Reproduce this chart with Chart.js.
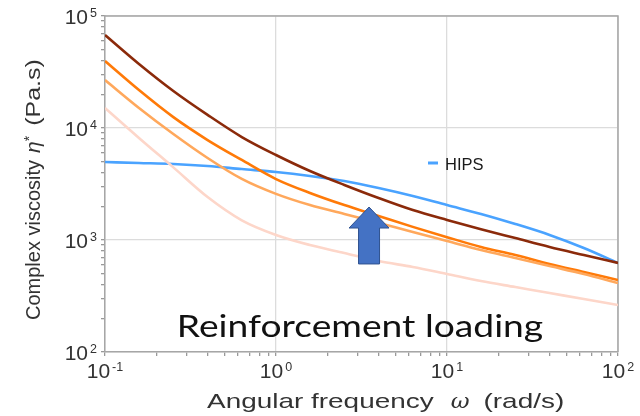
<!DOCTYPE html>
<html>
<head>
<meta charset="utf-8">
<script src="https://cdn.jsdelivr.net/npm/chart.js@4/dist/chart.umd.min.js"></script>
<style>
    html, body { margin: 0; padding: 0; background: #ffffff; }
    #wrap { width: 640px; height: 416px; position: relative; }
</style>
</head>
<body>
<div id="wrap"><canvas id="viscosityChart"></canvas></div>
<script>
// angular frequency (rad/s)
const omega = [0.1, 0.158, 0.251, 0.398, 0.631, 1, 1.58, 2.51, 3.98, 6.31, 10, 15.8, 25.1, 39.8, 63.1, 100];

// complex viscosity (Pa.s)
const loadingHigh = [67700, 37300, 21400, 13100, 8310, 5740, 4130, 3100, 2370, 1850, 1510, 1250, 1040, 866, 734, 624];
const loadingMid = [39600, 21800, 12500, 7810, 5180, 3500, 2630, 2050, 1640, 1310, 1060, 866, 734, 611, 518, 439];
const loadingLow = [26800, 15100, 8840, 5400, 3510, 2580, 2050, 1710, 1420, 1180, 980, 814, 691, 586, 497, 413];
const loadingMin = [15100, 8150, 4450, 2420, 1500, 1110, 902, 765, 649, 574, 497, 430, 380, 336, 297, 263];
const hips = [4970, 4870, 4770, 4580, 4300, 4050, 3730, 3360, 2910, 2470, 2050, 1710, 1390, 1110, 849, 624];

// major tick labels: base and exponent
const xMajor = [0.1, 1, 10, 100];
const xMajorExp = ['-1', '0', '1', '2'];
const yMajor = [100, 1000, 10000, 100000];
const yMajorExp = ['2', '3', '4', '5'];

const legendLabel = 'HIPS';
const annotationText = 'Reinforcement loading';

const fontFamily = '"Liberation Sans", Arial, sans-serif';
const textColor = '#333333';

const toPoints = (values) => omega.map((x, i) => ({ x, y: values[i] }));

const isPow10 = (v) => Math.abs(Math.log10(v) - Math.round(Math.log10(v))) < 1e-9;

const logTicks = (min, max) => {
    const ticks = [];
    for (let e = Math.round(Math.log10(min)); e < Math.round(Math.log10(max)); e++) {
        for (let m = 1; m <= 9; m++) {
            ticks.push({ value: m * Math.pow(10, e) });
        }
    }
    ticks.push({ value: max });
    return ticks;
};

const gridColor = (ctx) => (ctx.tick && isPow10(ctx.tick.value) ? '#dcdcdc' : 'rgba(0,0,0,0)');

// draws text squeezed or stretched horizontally, returns drawn width
const drawText = (ctx, text, x, y, sx = 1) => {
    ctx.save();
    ctx.translate(x, y);
    ctx.scale(sx, 1);
    ctx.fillText(text, 0, 0);
    ctx.restore();
    return ctx.measureText(text).width * sx;
};

const baseFont = '21px ' + fontFamily;
const expFont = '12.5px ' + fontFamily;

const drawPowerLabel = (ctx, exp, x, y, anchor) => {
    ctx.font = baseFont;
    const wBase = ctx.measureText('10').width;
    ctx.font = expFont;
    const wExp = ctx.measureText(exp).width;
    const total = wBase + 2 + wExp;
    const left = anchor === 'right' ? x - total : x - total / 2;
    ctx.textAlign = 'left';
    ctx.textBaseline = 'alphabetic';
    ctx.font = baseFont;
    ctx.fillText('10', left, y);
    ctx.font = expFont;
    ctx.fillText(exp, left + wBase + 2, y - 7);
};

const extras = {
    id: 'extras',
    beforeDatasetsDraw(chart) {
        const { ctx, chartArea } = chart;
        ctx.save();
        ctx.strokeStyle = '#a6a6a6';
        ctx.lineWidth = 1.5;
        ctx.beginPath();
        ctx.moveTo(chartArea.left, chartArea.top);
        ctx.lineTo(chartArea.right, chartArea.top);
        ctx.lineTo(chartArea.right, chartArea.bottom);
        ctx.stroke();
        ctx.restore();
    },
    afterDatasetsDraw(chart) {
        const { ctx, chartArea } = chart;
        const xs = chart.scales.x;
        const ys = chart.scales.y;
        ctx.save();
        ctx.fillStyle = textColor;

        // tick labels
        xMajor.forEach((v, i) => {
            drawPowerLabel(ctx, xMajorExp[i], xs.getPixelForValue(v), chartArea.bottom + 26, 'center');
        });
        yMajor.forEach((v, i) => {
            drawPowerLabel(ctx, yMajorExp[i], chartArea.left - 8, ys.getPixelForValue(v) + 7.5, 'right');
        });

        // x axis title
        const sx = 1.33;
        let px = chartArea.left + 102;
        const py = chartArea.bottom + 56;
        ctx.font = baseFont;
        px += drawText(ctx, 'Angular frequency', px, py, sx);
        px += 17;
        ctx.font = 'italic 21px "DejaVu Serif", serif';
        px += drawText(ctx, 'ω', px, py, 1.1);
        px += 14;
        ctx.font = baseFont;
        drawText(ctx, '(rad/s)', px, py, sx);

        // y axis title, rotated
        ctx.save();
        ctx.translate(40, chartArea.bottom - 32);
        ctx.rotate(-Math.PI / 2);
        ctx.font = '20px ' + fontFamily;
        let ty = 0;
        ty += drawText(ctx, 'Complex viscosity', ty, 0);
        ty += 7;
        ctx.font = 'italic 21px ' + fontFamily;
        ty += drawText(ctx, 'η', ty, 0);
        ctx.font = '14px ' + fontFamily;
        ty += drawText(ctx, '*', ty, -6);
        ty += 10;
        ctx.font = '20px ' + fontFamily;
        drawText(ctx, '(Pa.s)', ty, 0, 1.25);
        ctx.restore();

        // block arrow
        const ax = xs.getPixelForValue(3.5);
        const aTop = ys.getPixelForValue(1970);
        const aBottom = ys.getPixelForValue(611);
        const headH = 21;
        const headW = 20;
        const shaftW = 10.5;
        ctx.beginPath();
        ctx.moveTo(ax, aTop);
        ctx.lineTo(ax + headW, aTop + headH);
        ctx.lineTo(ax + shaftW, aTop + headH);
        ctx.lineTo(ax + shaftW, aBottom);
        ctx.lineTo(ax - shaftW, aBottom);
        ctx.lineTo(ax - shaftW, aTop + headH);
        ctx.lineTo(ax - headW, aTop + headH);
        ctx.closePath();
        ctx.fillStyle = '#4472c4';
        ctx.fill();
        ctx.strokeStyle = '#2f528f';
        ctx.lineWidth = 1;
        ctx.stroke();

        // legend entry
        const lx = xs.getPixelForValue(7.74);
        const ly = ys.getPixelForValue(4870);
        ctx.strokeStyle = '#4aa3ff';
        ctx.lineWidth = 3;
        ctx.beginPath();
        ctx.moveTo(lx, ly);
        ctx.lineTo(lx + 10, ly);
        ctx.stroke();
        ctx.fillStyle = '#1a1a1a';
        ctx.font = '16.5px ' + fontFamily;
        ctx.textBaseline = 'alphabetic';
        ctx.textAlign = 'left';
        ctx.fillText(legendLabel, lx + 17, ly + 7);

        // annotation
        const tx = xs.getPixelForValue(3.1);
        const tyA = ys.getPixelForValue(135);
        ctx.fillStyle = '#111111';
        ctx.font = '31px Lato, "Open Sans", sans-serif';
        const tw = ctx.measureText(annotationText).width * 1.2;
        drawText(ctx, annotationText, tx - tw / 2, tyA, 1.2);

        ctx.restore();
    },
};

const series = [
    { label: 'min', data: loadingMin, color: '#fdd6c9' },
    { label: 'low', data: loadingLow, color: '#ffa85c' },
    { label: 'mid', data: loadingMid, color: '#ff7a08' },
    { label: 'high', data: loadingHigh, color: '#8b2a0a' },
    { label: legendLabel, data: hips, color: '#4aa3ff' },
];

const axisCommon = {
    type: 'logarithmic',
    ticks: { display: false, autoSkip: false },
    grid: {
        color: gridColor,
        tickColor: '#999999',
        tickLength: 4,
        lineWidth: 1.3,
    },
    border: { color: '#a6a6a6', width: 1.5 },
};

new Chart(document.getElementById('viscosityChart'), {
    type: 'line',
    data: {
        datasets: series.map((s) => ({
            label: s.label,
            data: toPoints(s.data),
            borderColor: s.color,
            backgroundColor: s.color,
            borderWidth: 2.6,
            pointRadius: 0,
            cubicInterpolationMode: 'monotone',
            fill: false,
        })),
    },
    options: {
        responsive: true,
        maintainAspectRatio: false,
        animation: false,
        layout: {
            padding: { top: 16, right: 22, left: 0, bottom: 0 },
        },
        plugins: {
            legend: { display: false },
            tooltip: { enabled: false },
        },
        scales: {
            x: {
                ...axisCommon,
                min: 0.1,
                max: 100,
                afterBuildTicks(scale) {
                    scale.ticks = logTicks(0.1, 100);
                },
                afterFit(scale) {
                    scale.height = 64;
                },
            },
            y: {
                ...axisCommon,
                min: 100,
                max: 100000,
                afterBuildTicks(scale) {
                    scale.ticks = logTicks(100, 100000);
                },
                afterFit(scale) {
                    scale.width = 105;
                },
            },
        },
    },
    plugins: [extras],
});
</script>
</body>
</html>
